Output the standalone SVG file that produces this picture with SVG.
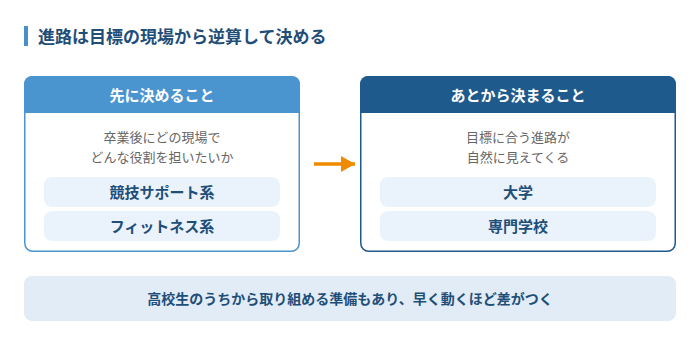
<svg xmlns="http://www.w3.org/2000/svg" width="700" height="340" viewBox="0 0 700 340">
<style>
text{font-family:"Noto Sans CJK JP","Noto Sans",sans-serif;text-anchor:middle}
.title{font-size:17px;font-weight:700;fill:#1f4e79;text-anchor:start}
.hd{font-size:15px;font-weight:700;fill:#ffffff}
.body{font-size:13px;fill:#666666}
.pill{fill:#eaf3fb}
.pt{font-size:15px;font-weight:700;fill:#1f4e79}
.banner{fill:#e1ecf6}
.bt{font-size:14px;font-weight:700;fill:#1f4e79}
</style>
<defs>
<marker id="ah" markerWidth="14" markerHeight="16" refX="14" refY="8" orient="auto" markerUnits="userSpaceOnUse">
<path d="M0,0 L14,8 L0,16 Z" fill="#f08a00"/>
</marker>
</defs>
<rect width="700" height="340" fill="#ffffff"/>
<g id="title">
<rect x="24" y="26" width="4" height="20" fill="#4a90c8"/>
<text class="title" x="38" y="42.5">進路は目標の現場から逆算して決める</text>
</g>
<g id="node-first">
<rect x="24.75" y="76.75" width="274.5" height="174.5" rx="8" fill="#ffffff" stroke="#4a94d0" stroke-width="1.5"/>
<path d="M24,84 a8,8 0 0 1 8,-8 h260 a8,8 0 0 1 8,8 v29 h-276 z" fill="#4a94d0"/>
<text class="hd" x="162" y="101">先に決めること</text>
<text class="body" x="162" y="142">卒業後にどの現場で</text>
<text class="body" x="162" y="162">どんな役割を担いたいか</text>
<rect class="pill" x="44" y="177" width="236" height="30" rx="8"/>
<text class="pt" x="162" y="197.5">競技サポート系</text>
<rect class="pill" x="44" y="211" width="236" height="30" rx="8"/>
<text class="pt" x="162" y="231.5">フィットネス系</text>
</g>
<g id="node-later">
<rect x="360.75" y="76.75" width="314.5" height="174.5" rx="8" fill="#ffffff" stroke="#1f5a8c" stroke-width="1.5"/>
<path d="M360,84 a8,8 0 0 1 8,-8 h300 a8,8 0 0 1 8,8 v29 h-316 z" fill="#1f5a8c"/>
<text class="hd" x="518" y="101">あとから決まること</text>
<text class="body" x="518" y="142">目標に合う進路が</text>
<text class="body" x="518" y="162">自然に見えてくる</text>
<rect class="pill" x="380" y="177" width="276" height="30" rx="8"/>
<text class="pt" x="518" y="197.5">大学</text>
<rect class="pill" x="380" y="211" width="276" height="30" rx="8"/>
<text class="pt" x="518" y="231.5">専門学校</text>
</g>
<g id="connectors">
<line x1="314" y1="164" x2="355" y2="164" stroke="#f08a00" stroke-width="3.5" marker-end="url(#ah)"/>
</g>
<g id="note">
<rect class="banner" x="24" y="276" width="652" height="45" rx="8"/>
<text class="bt" x="350" y="303.5">高校生のうちから取り組める準備もあり、早く動くほど差がつく</text>
</g>
</svg>
